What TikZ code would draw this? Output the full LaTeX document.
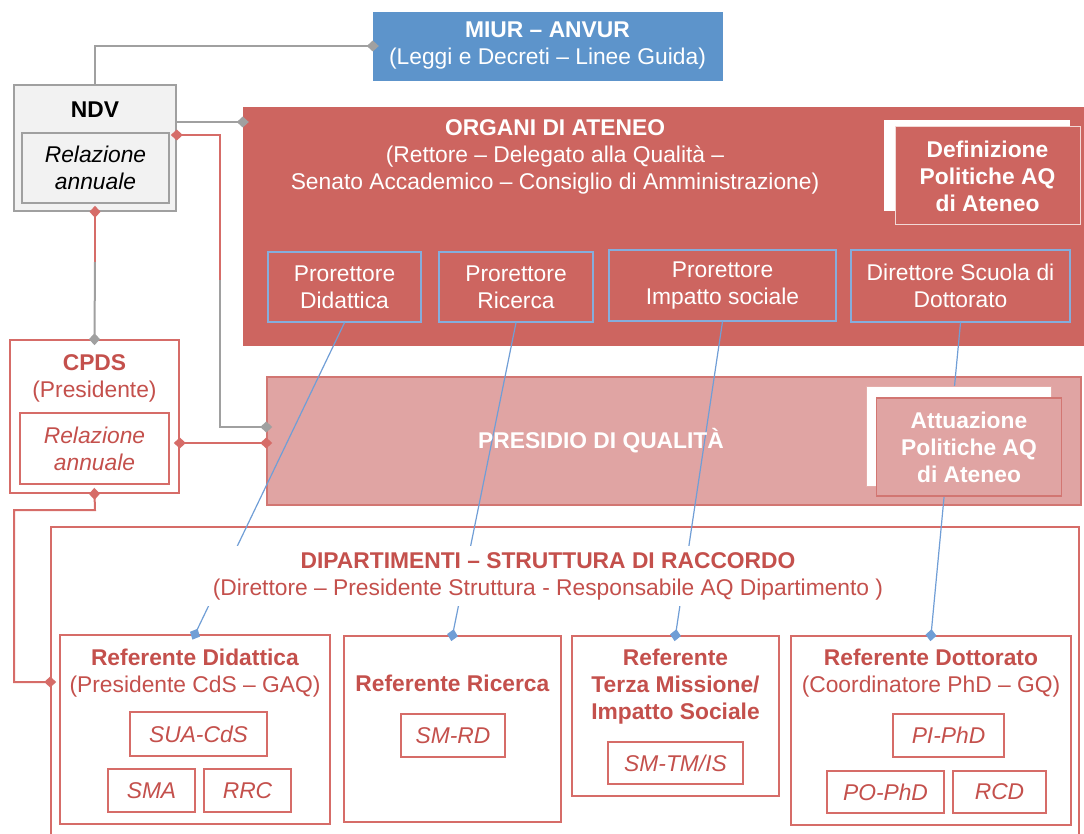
\documentclass[tikz,border=0pt]{standalone}
\usepackage{fontspec}
\setmainfont{Liberation Sans}
\usetikzlibrary{arrows.meta}

\definecolor{orgred}{RGB}{205,101,96}
\definecolor{pqpink}{RGB}{224,164,163}
\definecolor{pqedge}{RGB}{210,118,114}
\definecolor{linered}{RGB}{214,108,104}
\definecolor{txtred}{RGB}{196,80,76}
\definecolor{miurblue}{RGB}{93,148,203}
\definecolor{lineblue}{RGB}{112,158,214}
\definecolor{ndvgray}{RGB}{242,242,242}
\definecolor{linegray}{RGB}{160,160,160}

\newcommand{\aqfont}{\fontsize{22.8}{27}\selectfont}

\tikzset{
  every node/.style={font=\aqfont, align=center, inner sep=0pt},
  boxframe/.style={draw, rectangle, inner sep=0pt},
  docbox/.style={boxframe, draw=linered, line width=1.6pt, fill=white, text=txtred, font=\aqfont\itshape},
  refbox/.style={boxframe, draw=linered, line width=1.6pt, fill=white},
  prorett/.style={boxframe, draw=lineblue!85, line width=1.4pt, text=white},
  graylink/.style={draw=linegray, line width=2pt},
  redlink/.style={draw=linered, line width=2pt},
  bluelink/.style={draw=lineblue, line width=1.2pt, -{dia}, shorten >=-6pt},
  dia/.tip={Diamond[length=12pt,width=11pt]},
}

\begin{document}
\begin{tikzpicture}[x=1pt,y=-1pt]
\clip (0,0) rectangle (1084,834);

% MIUR
\node[boxframe, fill=miurblue, draw=miurblue, minimum width=349, minimum height=68, text=white] (miur) at (547.5,46) {\textbf{MIUR – ANVUR}\\(Leggi e Decreti – Linee Guida)};

% NDV
\node[boxframe, fill=ndvgray, draw=linegray, line width=1.6pt, minimum width=162, minimum height=126] (ndv) at (95,148) {};
\node (ndvtxt) at (95,110) {\textbf{NDV}};
\node[boxframe, fill=ndvgray, draw=linegray, line width=1.6pt, minimum width=147, minimum height=70, font=\aqfont\itshape] (ndvrel) at (95.5,168) {Relazione\\annuale};

% organi di ateneo
\node[boxframe, fill=orgred, draw=orgred, minimum width=841, minimum height=238] (organi) at (663.5,226) {};
\node[text=white] (organitxt) at (555,157) {\textbf{ORGANI DI ATENEO}\\(Rettore – Delegato alla Qualità –\\Senato Accademico – Consiglio di Amministrazione)};
\node[boxframe, fill=white, draw=white, minimum width=185, minimum height=90] (defback) at (977,165) {};
\node[boxframe, fill=orgred, draw=white!75!orgred, line width=1pt, minimum width=185, minimum height=98, text=white, font=\aqfont\bfseries] (def) at (987.5,176) {Definizione\\Politiche AQ\\di Ateneo};

\node[prorett, minimum width=153, minimum height=70] (pdid) at (344.5,287) {Prorettore\\Didattica};
\node[prorett, minimum width=154, minimum height=70] (pric) at (516,287) {Prorettore\\Ricerca};
\node[prorett, minimum width=227, minimum height=71] (pimp) at (722.5,285.5) {Prorettore\\Impatto sociale};
\node[prorett, minimum width=219, minimum height=72] (dsd) at (960.5,286) {Direttore Scuola di\\Dottorato};

% presidio
\node[boxframe, fill=pqpink, draw=pqedge, line width=1.5pt, minimum width=814, minimum height=128] (pq) at (674,441) {};

% CPDS
\node[refbox, minimum width=169, minimum height=153] (cpds) at (94.5,416.5) {};
\node[text=txtred] (cpdstxt) at (94.5,378) {\textbf{CPDS}\\(Presidente)};
\node[docbox, minimum width=149, minimum height=71] (cpdsrel) at (94.5,448.5) {Relazione\\annuale};

% dipartimenti
\node[refbox, minimum width=1028, minimum height=340] (dip) at (565,697) {};

\node[refbox, minimum width=270, minimum height=189] (rdid) at (195,729.5) {};
\node[text=txtred] (rdidtxt) at (195,673) {\textbf{Referente Didattica}\\(Presidente CdS – GAQ)};
\node[docbox, minimum width=137, minimum height=44] (suacds) at (198.5,734) {SUA-CdS};
\node[docbox, minimum width=87, minimum height=43] (sma) at (151.5,790.5) {SMA};
\node[docbox, minimum width=87, minimum height=43] (rrc) at (247.5,790.5) {RRC};

\node[refbox, minimum width=217, minimum height=186] (rric) at (452.5,729) {};
\node[text=txtred] (rrictxt) at (452.5,683) {\textbf{Referente Ricerca}};
\node[docbox, minimum width=104, minimum height=43] (smrd) at (453,735.5) {SM-RD};

\node[refbox, minimum width=207, minimum height=160] (rter) at (675.5,716) {};
\node[text=txtred] (rtertxt) at (675.5,687) {\textbf{Referente}\\\textbf{Terza Missione/}\\\textbf{Impatto Sociale}};
\node[docbox, minimum width=135, minimum height=42] (smtm) at (675.5,763) {SM-TM/IS};

\node[refbox, minimum width=280, minimum height=189] (rdot) at (931,730.5) {};
\node[text=txtred] (rdottxt) at (931,673) {\textbf{Referente Dottorato}\\(Coordinatore PhD – GQ)};
\node[docbox, minimum width=111, minimum height=43] (piphd) at (948.5,735.5) {PI-PhD};
\node[docbox, minimum width=117, minimum height=42] (pophd) at (885.5,792) {PO-PhD};
\node[docbox, minimum width=93, minimum height=42] (rcd) at (999.5,792) {RCD};

% gray and red links
\draw[graylink, -{dia}, shorten >=-6pt] (ndv.north) |- (miur.west);
\draw[graylink, -{dia}, shorten >=-6pt] (ndv.east |- 0,122) -- (organi.west |- 0,122);
\draw[redlink, {dia}-, shorten <=-6pt] (ndv.east |- 0,135) -| (220,280);
\draw[graylink, -{dia}, shorten >=-6pt] (220,280) |- (pq.west |- 0,427);
\draw[redlink, {dia}-, shorten <=-6pt] (ndv.south) -- (95,262);
\draw[graylink, -{dia}, shorten >=-6pt] (95,262) -- (cpds.north);
\draw[redlink, {dia}-{dia}, shorten <=-6pt, shorten >=-6pt] (cpds.east |- 0,443) -- (pq.west |- 0,443);
\draw[redlink, {dia}-{dia}, shorten <=-6pt, shorten >=-6pt] (cpds.south) -- (95,510) -| (14,682) -- (dip.west |- 0,682);

% blue links
\draw[bluelink] (pdid.south) -- (rdid.north);
\draw[bluelink] (pric.south) -- (rric.north);
\draw[bluelink] (pimp.south) -- (rter.north);
\draw[bluelink] (dsd.south) -- (rdot.north);

\node[text=white] (pqtxt) at (601,441) {\textbf{PRESIDIO DI QUALITÀ}};

% attuazione
\node[boxframe, fill=white, draw=pqedge!60, line width=1pt, minimum width=185, minimum height=100] (attback) at (958.5,436) {};
\node[boxframe, fill=pqpink, draw=pqedge, line width=1.5pt, minimum width=185, minimum height=98, text=white, font=\aqfont\bfseries] (att) at (969,447) {Attuazione\\Politiche AQ\\di Ateneo};

\node[fill=white, inner sep=6pt, text=txtred] (diptxt) at (548,576) {\textbf{DIPARTIMENTI – STRUTTURA DI RACCORDO}\\(Direttore – Presidente Struttura - Responsabile AQ Dipartimento )};
\end{tikzpicture}
\end{document}
